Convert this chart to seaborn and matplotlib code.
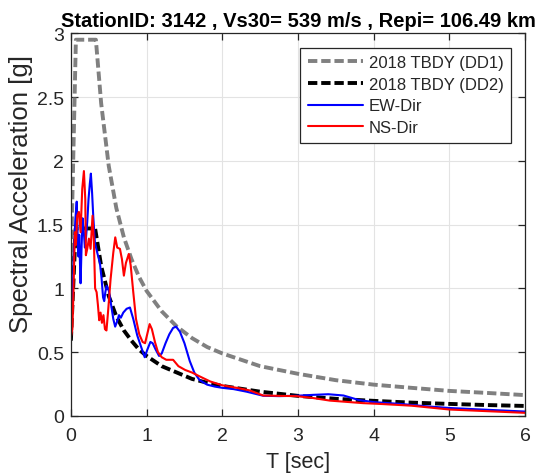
"""Response spectra vs 2018 TBDY design spectra."""

import matplotlib

matplotlib.use("Agg")

import matplotlib.pyplot as plt
import seaborn as sns

# 2018 TBDY design spectra
T_DD1 = [0.0, 0.066, 0.33, 0.4, 0.5, 0.6, 0.7, 0.8, 0.9, 1.0, 1.2, 1.4, 1.6,
         1.8, 2.0, 2.5, 3.0, 3.5, 4.0, 4.5, 5.0, 5.5, 6.0]
SA_DD1 = [1.18, 2.95, 2.95, 2.45, 1.96, 1.63, 1.40, 1.23, 1.09, 0.98, 0.82,
          0.70, 0.61, 0.54, 0.49, 0.39, 0.33, 0.28, 0.245, 0.22, 0.196, 0.18,
          0.163]

T_DD2 = [0.0, 0.064, 0.32, 0.4, 0.5, 0.6, 0.7, 0.8, 0.9, 1.0, 1.2, 1.4, 1.6,
         1.8, 2.0, 2.5, 3.0, 3.5, 4.0, 4.5, 5.0, 5.5, 6.0]
SA_DD2 = [0.59, 1.47, 1.47, 1.175, 0.94, 0.78, 0.67, 0.59, 0.52, 0.47, 0.39,
          0.34, 0.29, 0.26, 0.235, 0.19, 0.157, 0.134, 0.118, 0.104, 0.094,
          0.085, 0.078]

# recorded spectra
T_EW = [0.0, 0.02, 0.04, 0.06, 0.077, 0.09, 0.1, 0.11, 0.12, 0.128, 0.14,
        0.154, 0.17, 0.185, 0.2, 0.216, 0.233, 0.25, 0.264, 0.28, 0.295,
        0.317, 0.348, 0.383, 0.405, 0.425, 0.44, 0.455, 0.471, 0.502, 0.537,
        0.56, 0.585, 0.61, 0.635, 0.66, 0.692, 0.736, 0.78, 0.824, 0.877,
        0.934, 0.975, 1.01, 1.05, 1.08, 1.12, 1.165, 1.2, 1.25, 1.3, 1.35,
        1.39, 1.44, 1.5, 1.57, 1.63, 1.7, 1.8, 1.9, 2.0, 2.15, 2.32, 2.54,
        2.75, 2.98, 3.2, 3.4, 3.6, 3.8, 4.0, 4.35, 4.7, 5.0, 5.5, 6.0]
SA_EW = [0.66, 0.9, 1.3, 1.55, 1.68, 1.40, 1.25, 1.42, 1.20, 1.04, 1.30,
         1.55, 1.45, 1.32, 1.40, 1.52, 1.70, 1.82, 1.90, 1.75, 1.57, 1.36,
         1.28, 1.20, 1.08, 0.93, 0.90, 0.97, 1.02, 0.98, 0.85, 0.76, 0.70,
         0.74, 0.79, 0.77, 0.81, 0.84, 0.85, 0.76, 0.63, 0.53, 0.46, 0.52,
         0.58, 0.57, 0.52, 0.47, 0.49, 0.57, 0.64, 0.69, 0.70, 0.66, 0.57,
         0.43, 0.34, 0.28, 0.245, 0.23, 0.22, 0.21, 0.19, 0.158, 0.155, 0.158,
         0.165, 0.17, 0.16, 0.125, 0.108, 0.094, 0.075, 0.062, 0.048, 0.034]

T_NS = [0.0, 0.02, 0.035, 0.053, 0.066, 0.084, 0.106, 0.128, 0.15, 0.172,
        0.19, 0.198, 0.216, 0.238, 0.26, 0.286, 0.304, 0.32, 0.34, 0.357,
        0.374, 0.392, 0.41, 0.43, 0.45, 0.47, 0.49, 0.524, 0.56, 0.586, 0.612,
        0.648, 0.674, 0.7, 0.727, 0.765, 0.79, 0.824, 0.86, 0.903, 0.947,
        0.98, 1.0, 1.04, 1.07, 1.11, 1.15, 1.2, 1.26, 1.35, 1.42, 1.51, 1.6,
        1.7, 1.84, 2.0, 2.19, 2.36, 2.54, 2.75, 2.98, 3.2, 3.42, 3.64, 3.86,
        4.08, 4.5, 5.0, 5.5, 6.0]
SA_NS = [0.62, 0.68, 1.0, 1.44, 1.34, 1.57, 1.60, 1.44, 1.78, 1.92, 1.70,
         1.26, 1.31, 1.39, 1.31, 1.57, 1.36, 1.00, 0.97, 0.87, 0.75, 0.81,
         0.73, 0.79, 0.68, 0.67, 0.81, 1.07, 1.28, 1.40, 1.32, 1.31, 1.23,
         1.10, 1.20, 1.27, 1.18, 0.97, 0.76, 0.64, 0.58, 0.57, 0.62, 0.72,
         0.68, 0.58, 0.50, 0.46, 0.44, 0.44, 0.39, 0.36, 0.34, 0.31, 0.27,
         0.24, 0.22, 0.20, 0.16, 0.157, 0.155, 0.14, 0.12, 0.11, 0.10, 0.094,
         0.08, 0.05, 0.037, 0.024]

TITLE = "StationID: 3142 , Vs30= 539 m/s , Repi= 106.49 km"

sns.set_theme(style="whitegrid")
plt.rcParams["font.family"] = ["Liberation Sans", "DejaVu Sans"]

TEXT = "#262626"

fig = plt.figure(figsize=(5.37, 4.77), dpi=100)
ax = fig.add_axes([0.132, 0.126, 0.846, 0.802])

sns.lineplot(x=T_DD1, y=SA_DD1, ax=ax, color="#808080", linewidth=2.8,
             label="2018 TBDY (DD1)")
sns.lineplot(x=T_DD2, y=SA_DD2, ax=ax, color="black", linewidth=2.8,
             label="2018 TBDY (DD2)")
for line in ax.lines:
    line.set_dashes((2.4, 1.0))
sns.lineplot(x=T_EW, y=SA_EW, ax=ax, color="#0000ff", linewidth=1.5,
             label="EW-Dir")
sns.lineplot(x=T_NS, y=SA_NS, ax=ax, color="#ff0000", linewidth=1.5,
             label="NS-Dir")

ax.set_xlim(0, 6)
ax.set_ylim(0, 3)
ax.set_xticks(range(0, 7))
ax.set_yticks([0, 0.5, 1, 1.5, 2, 2.5, 3])
ax.set_yticklabels(["0", "0.5", "1", "1.5", "2", "2.5", "3"])

ax.set_facecolor("white")
ax.grid(True, color="#e3e3e3", linewidth=0.8)
for sp in ax.spines.values():
    sp.set_visible(True)
    sp.set_color(TEXT)
    sp.set_linewidth(0.9)
ax.tick_params(direction="in", length=5, width=0.9, colors=TEXT,
               labelsize=14, top=True, right=True, bottom=True, left=True,
               labelcolor=TEXT)
ax.tick_params(axis="x", pad=8)
ax.tick_params(axis="y", pad=5)

ax.set_xlabel("T [sec]", fontsize=15.5, color=TEXT, labelpad=5)
ax.set_ylabel("Spectral Acceleration [g]", fontsize=18.5, color=TEXT)
ax.yaxis.set_label_coords(-0.083, 0.583)
ax.set_title(TITLE, fontsize=14.5, fontweight="bold", color="black", pad=5)

leg = ax.legend(loc="upper right", fontsize=12, frameon=True, fancybox=False,
                borderaxespad=0.85, handlelength=3.3, handletextpad=0.35,
                labelspacing=0.4, borderpad=0.45)
leg.get_frame().set_edgecolor(TEXT)
leg.get_frame().set_linewidth(0.9)
leg.get_frame().set_alpha(1)

fig.savefig("out.png", dpi=100)
plt.close(fig)
